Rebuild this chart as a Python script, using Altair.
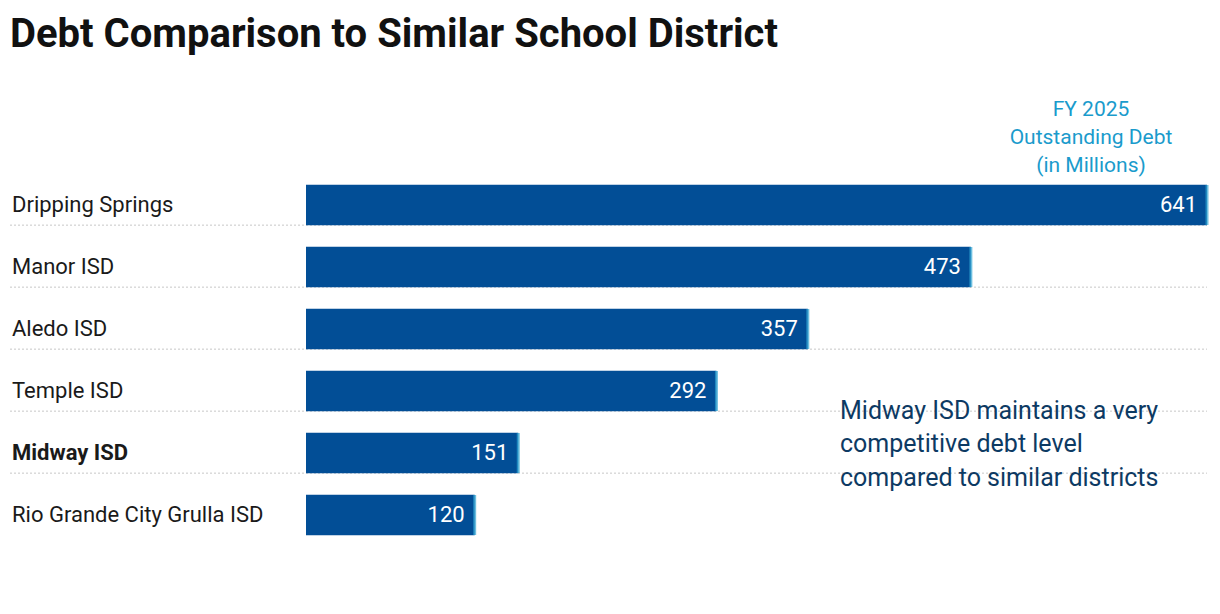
import pandas as pd
import altair as alt

districts = ["Dripping Springs", "Manor ISD", "Aledo ISD", "Temple ISD", "Midway ISD", "Rio Grande City Grulla ISD"]
debt = [641, 473, 357, 292, 151, 120]
highlight = [False, False, False, False, True, False]

df = pd.DataFrame({"district": districts, "debt": debt, "bold": highlight})
sep = df.iloc[:-1]

FONT = "Roboto"
band = alt.Scale(paddingInner=0.35, paddingOuter=0.175)
y = alt.Y("district:N", sort=districts, axis=None, scale=band)
xs = alt.Scale(domain=[0, 641], nice=False, zero=True)

base = alt.Chart(df)

bars = base.mark_bar(color="#024e96").encode(x=alt.X("debt:Q", scale=xs, axis=None), y=y)
ends = base.mark_tick(color="#2ea3d1", thickness=3, size=40).encode(x=alt.X("debt:Q", scale=xs), y=y)
values = base.mark_text(color="white", align="right", dx=-10, fontSize=22, font=FONT).encode(
    x=alt.X("debt:Q", scale=xs), y=y, text="debt:Q")
names = base.mark_text(align="left", fontSize=22, font=FONT, color="#1a1a1a").encode(
    x=alt.value(-294), y=y, text="district:N").transform_filter("!datum.bold")
names_bold = base.mark_text(align="left", fontSize=22, font=FONT, color="#1a1a1a", fontWeight="bold").encode(
    x=alt.value(-294), y=y, text="district:N").transform_filter("datum.bold")
seps = alt.Chart(sep).mark_rule(color="#c8c8c8", strokeDash=[2, 2], strokeWidth=1).encode(
    y=alt.Y("district:N", sort=districts, axis=None, bandPosition=1, scale=band),
    x=alt.value(-296), x2=alt.value(901))

title = alt.Chart(pd.DataFrame({"t": ["Debt Comparison to Similar School District"]})).mark_text(
    font=FONT, fontSize=40, fontWeight="bold", align="left", color="#111").encode(
    x=alt.value(-296), y=alt.value(-139), text="t:N")
source = alt.Chart(pd.DataFrame({"t": ["Source: TEXAS BRB DATA CENTER • Created with Datawrapper"]})).mark_text(
    font=FONT, fontSize=18, align="left", color="#8a8a8a").encode(
    x=alt.value(-296), y=alt.value(416), text="t:N")

header_lines = ["FY 2025", "Outstanding Debt", "(in Millions)"]
note_lines = ["Midway ISD maintains a very", "competitive debt level", "compared to similar districts"]
header = alt.Chart(pd.DataFrame({"t": header_lines, "yy": [-64, -36, -8]})).mark_text(
    font=FONT, fontSize=21, color="#1a9bcc", align="center").encode(
    x=alt.value(785), y=alt.Y("yy:Q", scale=None), text="t:N")
note = alt.Chart(pd.DataFrame({"t": note_lines, "yy": [237, 270, 304]})).mark_text(
    font=FONT, fontSize=25, color="#0d3a63", align="left").encode(
    x=alt.value(534), y=alt.Y("yy:Q", scale=None), text="t:N")

chart = alt.layer(seps, bars, ends, values, names, names_bold, header, note, title, source).properties(
    width=901, height=372,
    autosize=alt.AutoSizeParams(type="none"),
    padding={"left": 298, "top": 166, "right": 5, "bottom": 30},
).configure_view(strokeWidth=0)

chart.save("out.html", embed_options={"renderer": "svg", "actions": False})
